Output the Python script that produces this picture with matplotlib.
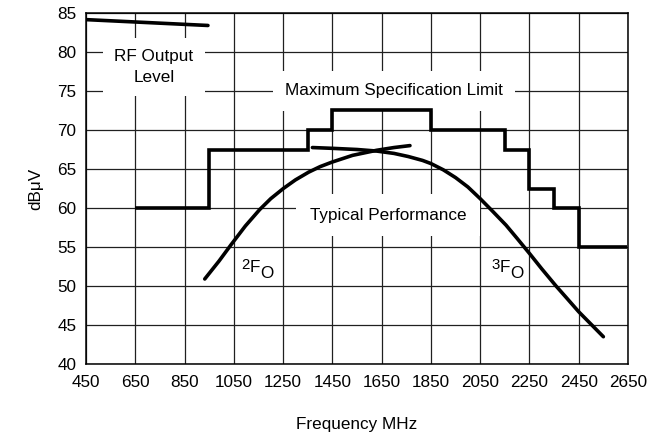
import matplotlib
matplotlib.use("Agg")
import matplotlib.pyplot as plt

# ---- data ----
xticks = [450, 650, 850, 1050, 1250, 1450, 1650, 1850, 2050, 2250, 2450, 2650]
yticks = [40, 45, 50, 55, 60, 65, 70, 75, 80, 85]

# Maximum specification limit (step edges in MHz, levels in dBuV)
spec_edges = [650, 950, 1350, 1450, 1850, 2150, 2250, 2350, 2450, 2645]
spec_levels = [60, 67.5, 70, 72.5, 70, 67.5, 62.5, 60, 55]

# RF output level
rf_freq = [450, 945]
rf_level = [84.15, 83.4]

# 2nd harmonic typical performance
h2_freq = [932, 990, 1039, 1097, 1155, 1200, 1251, 1300, 1354, 1400, 1450, 1532, 1630, 1700, 1765]
h2_level = [50.9, 53.2, 55.3, 57.7, 59.8, 61.2, 62.5, 63.6, 64.6, 65.3, 65.9, 66.75, 67.4, 67.75, 68.0]

# 3rd harmonic typical performance
h3_freq = [1369, 1450, 1550, 1630, 1700, 1758, 1816, 1850, 1900, 1950, 2000, 2050, 2100, 2155,
           2200, 2252, 2300, 2358, 2400, 2450, 2500, 2550]
h3_level = [67.75, 67.65, 67.5, 67.3, 67.0, 66.6, 66.1, 65.7, 64.9, 63.9, 62.7, 61.2, 59.6, 57.8,
            56.1, 54.1, 52.2, 50.0, 48.5, 46.7, 45.1, 43.5]

# ---- style ----
plt.rcParams['font.family'] = ['Liberation Sans', 'DejaVu Sans']
fs = 12.3
plt.rcParams['font.size'] = fs

fig = plt.figure(figsize=(6.6, 4.36), dpi=100)
ax = fig.add_axes([0.1303, 0.1651, 0.8212, 0.8051])

ax.set_xlim(450, 2650)
ax.set_ylim(40, 85)
ax.set_xticks(xticks)
ax.set_yticks(yticks)
ax.tick_params(axis='x', length=0, pad=8, labelsize=fs)
ax.tick_params(axis='y', length=0, pad=7, labelsize=fs)
ax.grid(True, color='#202020', linewidth=0.9, zorder=0)
ax.set_axisbelow(True)
for s in ax.spines.values():
    s.set_linewidth(1.1)
    s.set_color('black')

lw = 2.6
ax.stairs(spec_levels, spec_edges, baseline=None, color='black', linewidth=lw, zorder=5)
ax.plot(rf_freq, rf_level, color='black', linewidth=lw, solid_capstyle='round', zorder=5)
ax.plot(h2_freq, h2_level, color='black', linewidth=lw, solid_capstyle='round',
        solid_joinstyle='round', zorder=5)
ax.plot(h3_freq, h3_level, color='black', linewidth=lw, solid_capstyle='round',
        solid_joinstyle='round', zorder=5)

box = dict(facecolor='white', edgecolor='none', pad=9)
ax.text(726, 78.1, 'RF Output\nLevel', ha='center', va='center', linespacing=1.5,
        bbox=dict(facecolor='white', edgecolor='none', pad=8), zorder=4)
ax.text(1700, 75, 'Maximum Specification Limit', ha='center', va='center',
        bbox=box, zorder=4)
ax.text(1677, 59.1, 'Typical Performance', ha='center', va='center',
        bbox=dict(facecolor='white', edgecolor='none', pad=10), zorder=4)

# harmonic labels: superscript digit, F, lowered O
for x0, digit in [(1080, '2'), (2094, '3')]:
    ax.annotate(digit, (x0, 52.4), xytext=(0, 1.8), textcoords='offset points',
                ha='left', va='center', fontsize=fs - 1.5, zorder=4)
    ax.annotate('F', (x0, 52.4), xytext=(6.0, 0), textcoords='offset points',
                ha='left', va='center', fontsize=fs, zorder=4)
    ax.annotate('O', (x0, 52.4), xytext=(13.6, -4.3), textcoords='offset points',
                ha='left', va='center', fontsize=fs, zorder=4)

ax.set_xlabel('Frequency MHz', labelpad=19)
ax.set_ylabel('dB\u03bcV', labelpad=10)

fig.savefig('out.png', dpi=100)
